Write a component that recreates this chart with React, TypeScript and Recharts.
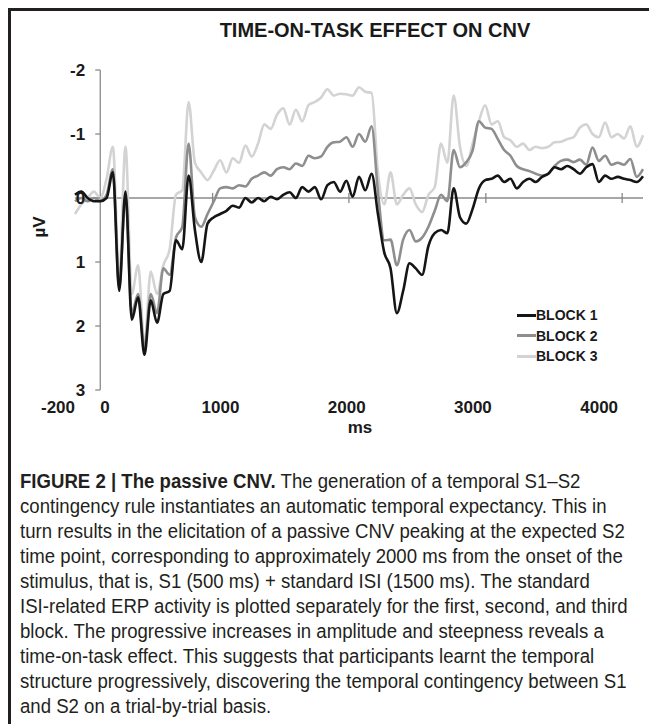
import { LineChart, Line, XAxis, YAxis, ReferenceLine, Legend } from 'recharts';

// ERP amplitude (µV) per 50 ms sample
const TIMES_MS = [
  -200, -150, -100, -50, 0, 50, 100, 150, 200, 250, 300, 350, 400, 450, 500, 550, 600, 650, 700, 750,
  800, 850, 900, 950, 1000, 1050, 1100, 1150, 1200, 1250, 1300, 1350, 1400, 1450, 1500, 1550, 1600, 1650,
  1700, 1750, 1800, 1850, 1900, 1950, 2000, 2050, 2100, 2150, 2200, 2250, 2300, 2350, 2400, 2450, 2500,
  2550, 2600, 2650, 2700, 2750, 2800, 2850, 2900, 2950, 3000, 3050, 3100, 3150, 3200, 3250, 3300, 3350,
  3400, 3450, 3500, 3550, 3600, 3650, 3700, 3750, 3800, 3850, 3900, 3950, 4000, 4050, 4100, 4150, 4200,
  4250, 4300,
];

const BLOCK_1 = [
  -0.05, -0.1, 0.0, 0.05, 0.05, 0.0, -0.4, 1.45, -0.1, 1.9, 1.55, 2.45, 1.6, 1.95, 1.5, 1.45, 0.66, 0.8, -0.35, 0.5,
  1.0, 0.4, 0.3, 0.25, 0.2, 0.12, 0.15, 0.0, 0.07, 0.0, 0.05, -0.02, 0.02, -0.05, -0.09, 0.0, -0.17, -0.1,
  -0.17, 0.02, -0.2, -0.25, -0.1, -0.27, -0.02, -0.33, -0.12, -0.38, 0.25, 0.85, 1.1, 1.8, 1.45, 1.02, 1.1,
  1.2, 0.75, 0.55, 0.5, 0.55, -0.15, 0.3, 0.4, 0.17, -0.15, -0.28, -0.3, -0.35, -0.25, -0.3, -0.15, -0.25,
  -0.3, -0.25, -0.33, -0.38, -0.48, -0.45, -0.5, -0.45, -0.38, -0.48, -0.53, -0.25, -0.35, -0.3, -0.33, -0.3, -0.28,
  -0.25, -0.34,
];

const BLOCK_2 = [
  0.05, 0.0, 0.05, 0.0, 0.05, -0.05, -0.45, 1.4, -0.05, 1.8, 1.5, 2.35, 1.5, 1.8, 1.1, 1.2, 0.62, 0.45, -0.85, 0.3,
  0.45, 0.25, 0.05, -0.15, -0.17, -0.15, -0.2, -0.18, -0.3, -0.35, -0.4, -0.35, -0.45, -0.48, -0.45, -0.54, -0.5, -0.66,
  -0.62, -0.65, -0.8, -0.87, -0.88, -0.95, -0.8, -1.0, -0.88, -1.12, -0.1, 0.66, 0.65, 1.05, 0.65, 0.5, 0.68,
  0.62, 0.45, 0.2, -0.05, 0.05, -0.75, -0.48, -0.56, -0.74, -1.2, -1.1, -1.08, -0.92, -0.75, -0.66, -0.5, -0.45,
  -0.42, -0.38, -0.35, -0.38, -0.5, -0.58, -0.6, -0.56, -0.6, -0.52, -0.79, -0.58, -0.66, -0.52, -0.55, -0.52, -0.61,
  -0.33, -0.45,
];

const BLOCK_3 = [
  0.25, 0.1, 0.0, -0.1, 0.0, -0.3, -0.8, 1.25, -0.8, 1.5, 1.05, 2.3, 1.15, 1.5, 1.05, 0.8, -0.05, -0.12, -1.5, -0.55,
  -0.4, -0.28, -0.43, -0.59, -0.4, -0.62, -0.55, -0.82, -0.65, -0.85, -1.15, -1.08, -1.3, -1.4, -1.15, -1.38, -1.2, -1.45,
  -1.5, -1.57, -1.7, -1.6, -1.63, -1.62, -1.6, -1.73, -1.66, -1.64, -0.4, 0.1, -0.4, 0.1, -0.05, -0.15, 0.1,
  0.22, -0.05, -0.17, -0.85, -0.55, -1.6, -0.8, -0.5, -0.85, -1.2, -1.45, -1.15, -1.2, -0.95, -0.9, -0.8, -0.85,
  -0.75, -0.8, -0.78, -0.8, -0.87, -0.88, -0.92, -0.95, -1.1, -1.15, -1.0, -0.95, -1.18, -0.95, -1.0, -0.93, -1.12,
  -0.8, -0.98,
];

const X_TICKS = [-200, 0, 1000, 2000, 3000, 4000];
const Y_TICKS = [-2, -1, 0, 1, 2, 3];
// small Excel-style marks sitting on the zero line
const ZERO_LINE_MARKS = [890, 1970, 3055, 4135];

const CAPTION_LINES = [
  'contingency rule instantiates an automatic temporal expectancy. This in',
  'turn results in the elicitation of a passive CNV peaking at the expected S2',
  'time point, corresponding to approximately 2000 ms from the onset of the',
  'stimulus, that is, S1 (500 ms) + standard ISI (1500 ms). The standard',
  'ISI-related ERP activity is plotted separately for the first, second, and third',
  'block. The progressive increases in amplitude and steepness reveals a',
  'time-on-task effect. This suggests that participants learnt the temporal',
  'structure progressively, discovering the temporal contingency between S1',
  'and S2 on a trial-by-trial basis.',
];

const data = TIMES_MS.map((t, i) => ({
  t,
  block1: BLOCK_1[i],
  block2: BLOCK_2[i],
  block3: BLOCK_3[i],
}));

// drawn light first so block 1 ends up on top
const series = [
  { key: 'block3', name: 'BLOCK 3', color: '#d3d3d3' },
  { key: 'block2', name: 'BLOCK 2', color: '#8e8e8e' },
  { key: 'block1', name: 'BLOCK 1', color: '#151515' },
];

const FONT = '"Liberation Sans", Arial, sans-serif';
const CHART_W = 646;
const CHART_H = 440;
const MARGIN = { top: 59, right: 14, left: 44, bottom: 31 };
const Y_AXIS_W = 20;
const X_MIN = -200;
const X_MAX = 4300;
const PLOT_LEFT = MARGIN.left + Y_AXIS_W;
const PLOT_W = CHART_W - PLOT_LEFT - MARGIN.right;
const PLOT_BOTTOM = CHART_H - MARGIN.bottom - 30;
const ZERO_X = PLOT_LEFT + (PLOT_W * (0 - X_MIN)) / (X_MAX - X_MIN);

function YTick({ y, payload }: any) {
  return (
    <g>
      <line x1={ZERO_X - 5} x2={ZERO_X} y1={y} y2={y} stroke="#8a8a8a" strokeWidth={1.3} />
      <text
        x={ZERO_X - 15}
        y={y}
        textAnchor="end"
        dominantBaseline="central"
        fontFamily={FONT}
        fontSize={17}
        fontWeight="bold"
        fill="#1a1a1a"
      >
        {payload.value}
      </text>
    </g>
  );
}

function XTick({ x, payload }: any) {
  const v = payload.value;
  const anchor = v < 0 ? 'end' : v === 0 ? 'start' : 'middle';
  return (
    <text
      x={x}
      dx={v > 0 ? -6 : 0}
      y={PLOT_BOTTOM + 17}
      textAnchor={anchor}
      dominantBaseline="central"
      fontFamily={FONT}
      fontSize={17}
      fontWeight="bold"
      fill="#1a1a1a"
    >
      {v}
    </text>
  );
}

function LegendBox({ payload }: any) {
  const items = [...(payload ?? [])].sort((a, b) => String(a.value).localeCompare(String(b.value)));
  return (
    <div>
      {items.map((it) => (
        <div key={it.value} style={{ display: 'flex', alignItems: 'center', height: 20.5 }}>
          <span style={{ display: 'inline-block', width: 19, height: 3, background: it.color }} />
          <span style={{ fontFamily: FONT, fontSize: 14, fontWeight: 'bold', color: '#1a1a1a' }}>{it.value}</span>
        </div>
      ))}
    </div>
  );
}

export default function App() {
  return (
    <div
      style={{
        position: 'relative',
        width: 646,
        height: 713,
        borderTop: '3px solid #231f20',
        borderLeft: '3px solid #231f20',
        fontFamily: FONT,
      }}
    >
      <div
        style={{
          position: 'absolute',
          left: 164,
          top: 7,
          width: 400,
          textAlign: 'center',
          fontSize: 20,
          lineHeight: '24px',
          fontWeight: 'bold',
          color: '#1a1a1a',
        }}
      >
        TIME-ON-TASK EFFECT ON CNV
      </div>

      <div style={{ position: 'absolute', left: 0, top: 0 }}>
        <LineChart width={CHART_W} height={CHART_H} data={data} margin={MARGIN}>
          <XAxis
            dataKey="t"
            type="number"
            domain={[X_MIN, X_MAX]}
            ticks={X_TICKS}
            height={30}
            axisLine={false}
            tickLine={false}
            tick={<XTick />}
            interval={0}
          />
          <YAxis
            type="number"
            domain={[-2, 3]}
            ticks={Y_TICKS}
            reversed
            width={Y_AXIS_W}
            axisLine={false}
            tickLine={false}
            tick={<YTick />}
            interval={0}
          />
          <ReferenceLine y={0} stroke="#8a8a8a" strokeWidth={1.5} />
          <ReferenceLine x={0} stroke="#8a8a8a" strokeWidth={1.3} />
          {ZERO_LINE_MARKS.map((m) => (
            <ReferenceLine
              key={m}
              segment={[
                { x: m, y: -0.08 },
                { x: m, y: 0.08 },
              ]}
              stroke="#8a8a8a"
              strokeWidth={1.3}
            />
          ))}
          {series.map((s) => (
            <Line
              key={s.key}
              dataKey={s.key}
              name={s.name}
              type="monotone"
              stroke={s.color}
              strokeWidth={2.6}
              dot={false}
              activeDot={false}
              isAnimationActive={false}
            />
          ))}
          <Legend
            layout="vertical"
            align="center"
            verticalAlign="middle"
            content={<LegendBox />}
            wrapperStyle={{ left: 506, top: 294, width: 110 }}
          />
        </LineChart>
      </div>

      <div
        style={{
          position: 'absolute',
          left: 29,
          top: 216,
          transform: 'translate(-50%, -50%) rotate(-90deg)',
          fontSize: 17,
          fontWeight: 'bold',
          color: '#1a1a1a',
        }}
      >
        µV
      </div>
      <div
        style={{
          position: 'absolute',
          left: 349,
          top: 417,
          transform: 'translate(-50%, -50%)',
          fontSize: 17,
          fontWeight: 'bold',
          color: '#1a1a1a',
        }}
      >
        ms
      </div>

      <div
        style={{
          position: 'absolute',
          left: 9,
          top: 458,
          fontFamily: FONT,
          fontSize: 20,
          lineHeight: '25px',
          color: '#231f20',
          whiteSpace: 'nowrap',
          transform: 'scaleX(0.93)',
          transformOrigin: 'left top',
        }}
      >
        <div>
          <b>FIGURE 2 | The passive CNV.</b> The generation of a temporal S1–S2
        </div>
        {CAPTION_LINES.map((line) => (
          <div key={line}>{line}</div>
        ))}
      </div>
    </div>
  );
}
